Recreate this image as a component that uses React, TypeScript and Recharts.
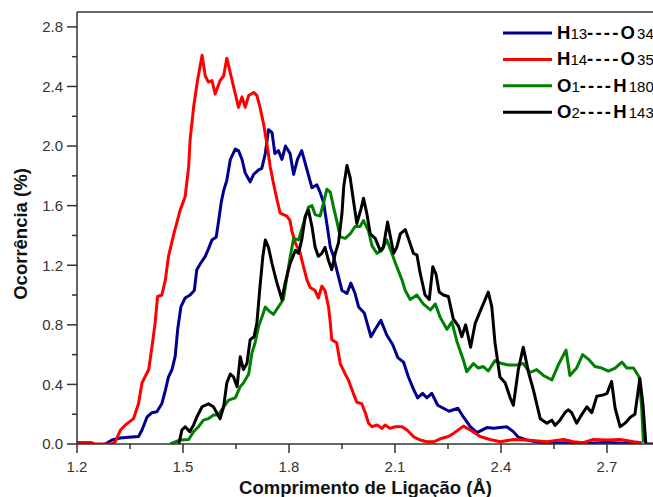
import React from "react";
import { LineChart, Line, XAxis, YAxis, Label, Legend, ReferenceLine } from "recharts";

// bond length (Å) vs occurrence (%) for each hydrogen bond
const h13o34: [number, number][] = [
  [1.28, 0.0], [1.299, 0.027], [1.322, 0.04], [1.346, 0.045], [1.374, 0.05], [1.384, 0.094], [1.398, 0.18],
  [1.412, 0.21], [1.426, 0.217], [1.44, 0.27], [1.45, 0.36], [1.459, 0.45], [1.469, 0.5], [1.478, 0.59],
  [1.485, 0.77], [1.494, 0.92], [1.506, 0.98], [1.52, 1.0], [1.532, 1.03], [1.539, 1.17], [1.549, 1.21],
  [1.563, 1.26], [1.572, 1.31], [1.582, 1.37], [1.594, 1.39], [1.601, 1.5], [1.608, 1.62], [1.615, 1.7],
  [1.624, 1.77], [1.634, 1.91], [1.648, 1.98], [1.657, 1.97], [1.667, 1.91], [1.676, 1.82], [1.69, 1.76],
  [1.7, 1.81], [1.714, 1.84], [1.723, 1.85], [1.733, 1.95], [1.742, 2.11], [1.752, 2.09], [1.76, 1.95],
  [1.77, 1.97], [1.78, 1.91], [1.79, 2.0], [1.803, 1.95], [1.813, 1.81], [1.824, 1.91], [1.836, 1.97],
  [1.851, 1.84], [1.865, 1.72], [1.879, 1.74], [1.888, 1.69], [1.898, 1.62], [1.907, 1.48], [1.917, 1.32],
  [1.926, 1.26], [1.935, 1.17], [1.95, 1.03], [1.964, 1.01], [1.975, 1.08], [1.987, 1.01], [1.997, 0.92],
  [2.013, 0.88], [2.032, 0.72], [2.044, 0.77], [2.06, 0.83], [2.077, 0.73], [2.093, 0.67], [2.108, 0.58],
  [2.124, 0.55], [2.138, 0.45], [2.152, 0.37], [2.164, 0.31], [2.178, 0.34], [2.19, 0.31], [2.204, 0.34],
  [2.221, 0.26], [2.237, 0.24], [2.253, 0.22], [2.278, 0.24], [2.294, 0.18], [2.313, 0.116], [2.332, 0.076],
  [2.36, 0.11], [2.379, 0.105], [2.416, 0.116], [2.435, 0.083], [2.449, 0.045], [2.473, 0.027], [2.51, 0.01],
  [2.55, 0.005], [2.6, 0.01], [2.65, 0.005], [2.7, 0.01], [2.75, 0.005], [2.798, 0.005],
];

const h14o35: [number, number][] = [
  [1.2, 0.01], [1.24, 0.01], [1.25, 0.0], [1.3, 0.0], [1.308, 0.015], [1.323, 0.094], [1.337, 0.128],
  [1.36, 0.17], [1.374, 0.27], [1.384, 0.41], [1.403, 0.5], [1.412, 0.65], [1.421, 0.81], [1.428, 0.99],
  [1.44, 1.0], [1.45, 1.1], [1.459, 1.26], [1.473, 1.4], [1.492, 1.57], [1.506, 1.66], [1.516, 1.86],
  [1.52, 2.04], [1.53, 2.26], [1.541, 2.44], [1.554, 2.61], [1.563, 2.47], [1.572, 2.43], [1.582, 2.44],
  [1.591, 2.35], [1.605, 2.44], [1.615, 2.47], [1.624, 2.59], [1.634, 2.49], [1.648, 2.35], [1.657, 2.26],
  [1.667, 2.33], [1.676, 2.26], [1.686, 2.34], [1.7, 2.36], [1.709, 2.34], [1.718, 2.26], [1.728, 2.15],
  [1.737, 2.02], [1.747, 1.86], [1.756, 1.75], [1.766, 1.64], [1.775, 1.55], [1.794, 1.53], [1.803, 1.5],
  [1.808, 1.43], [1.818, 1.35], [1.832, 1.28], [1.841, 1.19], [1.851, 1.1], [1.86, 1.05], [1.874, 1.03],
  [1.883, 0.98], [1.893, 1.06], [1.902, 1.03], [1.912, 0.92], [1.917, 0.81], [1.921, 0.7], [1.935, 0.68],
  [1.945, 0.54], [1.959, 0.47], [1.968, 0.43], [1.982, 0.34], [1.992, 0.28], [2.006, 0.27], [2.016, 0.21],
  [2.025, 0.14], [2.035, 0.116], [2.049, 0.128], [2.063, 0.105], [2.072, 0.128], [2.086, 0.105], [2.1, 0.116],
  [2.12, 0.116], [2.134, 0.094], [2.152, 0.05], [2.171, 0.027], [2.19, 0.015], [2.209, 0.015], [2.228, 0.035],
  [2.251, 0.05], [2.265, 0.07], [2.294, 0.12], [2.313, 0.094], [2.341, 0.05], [2.369, 0.03], [2.398, 0.015],
  [2.435, 0.03], [2.473, 0.027], [2.53, 0.015], [2.577, 0.03], [2.605, 0.015], [2.633, 0.009], [2.661, 0.03],
  [2.7, 0.027], [2.737, 0.03], [2.775, 0.015], [2.798, 0.009],
];

const o1h180: [number, number][] = [
  [1.464, 0.0], [1.492, 0.027], [1.516, 0.03], [1.53, 0.083], [1.544, 0.116], [1.558, 0.16], [1.572, 0.17],
  [1.586, 0.195], [1.6, 0.195], [1.615, 0.25], [1.629, 0.295], [1.648, 0.31], [1.662, 0.385], [1.671, 0.41],
  [1.686, 0.47], [1.695, 0.61], [1.704, 0.68], [1.714, 0.79], [1.723, 0.85], [1.733, 0.92], [1.745, 0.89],
  [1.756, 0.87], [1.77, 0.92], [1.784, 0.97], [1.794, 1.12], [1.803, 1.25], [1.813, 1.38], [1.827, 1.37],
  [1.841, 1.48], [1.855, 1.59], [1.865, 1.6], [1.874, 1.54], [1.888, 1.53], [1.898, 1.62], [1.907, 1.71],
  [1.917, 1.69], [1.926, 1.59], [1.935, 1.5], [1.945, 1.39], [1.959, 1.38], [1.973, 1.41], [1.987, 1.46],
  [2.001, 1.46], [2.011, 1.5], [2.025, 1.43], [2.035, 1.33], [2.049, 1.28], [2.063, 1.3], [2.077, 1.37],
  [2.091, 1.28], [2.105, 1.19], [2.12, 1.1], [2.129, 1.03], [2.143, 0.97], [2.162, 1.0], [2.18, 0.94],
  [2.2, 0.9], [2.214, 0.94], [2.228, 0.85], [2.247, 0.77], [2.261, 0.82], [2.275, 0.69], [2.294, 0.56],
  [2.303, 0.485], [2.322, 0.54], [2.336, 0.51], [2.35, 0.52], [2.364, 0.49], [2.383, 0.56], [2.402, 0.54],
  [2.421, 0.53], [2.445, 0.53], [2.463, 0.54], [2.482, 0.48], [2.501, 0.5], [2.52, 0.46], [2.544, 0.43],
  [2.562, 0.53], [2.584, 0.63], [2.595, 0.46], [2.614, 0.51], [2.631, 0.6], [2.647, 0.57], [2.666, 0.52],
  [2.685, 0.51], [2.704, 0.49], [2.723, 0.51], [2.742, 0.55], [2.756, 0.51], [2.775, 0.51], [2.791, 0.45],
  [2.798, 0.25], [2.803, 0.01],
];

const o2h143: [number, number][] = [
  [1.488, 0.0], [1.497, 0.094], [1.506, 0.116], [1.519, 0.083], [1.53, 0.128], [1.539, 0.18], [1.554, 0.25],
  [1.572, 0.27], [1.586, 0.25], [1.605, 0.17], [1.615, 0.25], [1.624, 0.41], [1.634, 0.47], [1.643, 0.45],
  [1.653, 0.385], [1.662, 0.585], [1.671, 0.5], [1.681, 0.54], [1.69, 0.7], [1.701, 0.72], [1.709, 0.81],
  [1.718, 1.06], [1.726, 1.26], [1.733, 1.37], [1.742, 1.32], [1.752, 1.21], [1.766, 1.08], [1.78, 0.97],
  [1.789, 1.08], [1.803, 1.21], [1.818, 1.3], [1.827, 1.28], [1.836, 1.37], [1.846, 1.53], [1.855, 1.57],
  [1.865, 1.46], [1.874, 1.32], [1.883, 1.26], [1.893, 1.28], [1.902, 1.32], [1.912, 1.23], [1.921, 1.17],
  [1.931, 1.28], [1.94, 1.35], [1.95, 1.55], [1.955, 1.73], [1.964, 1.87], [1.973, 1.79], [1.982, 1.64],
  [1.992, 1.48], [2.004, 1.58], [2.011, 1.65], [2.02, 1.55], [2.03, 1.41], [2.044, 1.38], [2.058, 1.3],
  [2.067, 1.32], [2.079, 1.49], [2.088, 1.38], [2.096, 1.28], [2.105, 1.32], [2.115, 1.41], [2.129, 1.44],
  [2.138, 1.38], [2.152, 1.28], [2.162, 1.27], [2.171, 1.15], [2.185, 1.0], [2.197, 0.97], [2.207, 1.19],
  [2.216, 1.14], [2.225, 1.02], [2.237, 1.0], [2.251, 0.99], [2.265, 0.84], [2.28, 0.79], [2.289, 0.72],
  [2.3, 0.8], [2.314, 0.65], [2.327, 0.81], [2.341, 0.89], [2.364, 1.02], [2.374, 0.92], [2.383, 0.68],
  [2.397, 0.45], [2.412, 0.41], [2.426, 0.31], [2.435, 0.26], [2.449, 0.5], [2.463, 0.65], [2.478, 0.48],
  [2.492, 0.36], [2.511, 0.17], [2.53, 0.14], [2.544, 0.16], [2.553, 0.125], [2.567, 0.16], [2.581, 0.21],
  [2.59, 0.23], [2.6, 0.21], [2.614, 0.14], [2.624, 0.18], [2.643, 0.25], [2.657, 0.21], [2.671, 0.32],
  [2.69, 0.33], [2.7, 0.34], [2.713, 0.42], [2.723, 0.24], [2.737, 0.116], [2.751, 0.14], [2.766, 0.18],
  [2.779, 0.2], [2.793, 0.44], [2.802, 0.26], [2.81, 0.0], [2.85, 0.0],
];

const xMajorTicks = [1.2, 1.5, 1.8, 2.1, 2.4, 2.7];
const xMinorTicks = [1.35, 1.65, 1.95, 2.25, 2.55];
const yMajorTicks = [0, 0.4, 0.8, 1.2, 1.6, 2.0, 2.4, 2.8];
const yMinorTicks = [0.2, 0.6, 1.0, 1.4, 1.8, 2.2, 2.6];

const FONT = "Arial, 'Liberation Sans', sans-serif";
const AXIS = "#333";

const toPoints = (pairs: [number, number][]) => pairs.map(([x, y]) => ({ x, y }));

const XTick = (props: any) => {
  const { x, y, payload } = props;
  const major = xMajorTicks.includes(payload.value);
  return (
    <g>
      <line x1={x} x2={x} y1={y} y2={y + (major ? 9 : 5)} stroke={AXIS} strokeWidth={1.5} />
      {major && (
        <text x={x} y={y + 28} textAnchor="middle" fontSize={15} fontFamily={FONT} fill="#333">
          {payload.value.toFixed(1)}
        </text>
      )}
    </g>
  );
};

const YTick = (props: any) => {
  const { x, y, payload } = props;
  const major = yMajorTicks.includes(payload.value);
  return (
    <g>
      <line x1={x} x2={x - (major ? 10 : 5)} y1={y} y2={y} stroke={AXIS} strokeWidth={1.5} />
      {major && (
        <text x={x - 14} y={y} dy="0.36em" textAnchor="end" fontSize={15} fontFamily={FONT} fill="#333">
          {payload.value.toFixed(1)}
        </text>
      )}
    </g>
  );
};

// atom labels: letters and dashes large bold, atom numbers smaller
const BondName = ({ name }: { name: string }) => (
  <>
    {name.split(/(\d+)/).filter(Boolean).map((part, i) =>
      /^\d+$/.test(part) ? (
        <tspan key={i} fontSize={15} fontWeight="normal">{part}</tspan>
      ) : (
        <tspan key={i} fontSize={18.5} fontWeight="bold" letterSpacing={part.startsWith("-") ? 2.2 : 0}>{part}</tspan>
      )
    )}
  </>
);

const LegendBox = (props: any) => {
  const items = props.payload || [];
  return (
    <svg width={160} height={110} style={{ overflow: "visible" }}>
      {items.map((entry: any, i: number) => {
        const cy = 15 + i * 26.4;
        return (
          <g key={entry.value}>
            <line x1={8} x2={57} y1={cy} y2={cy} stroke={entry.color} strokeWidth={3} />
            <text x={62} y={cy + 6} fontFamily={FONT} fill="#000">
              <BondName name={entry.value} />
            </text>
          </g>
        );
      })}
    </svg>
  );
};

const series = [
  { name: "H13----O34", color: "#00008f", data: h13o34 },
  { name: "H14----O35", color: "#ff0000", data: h14o35 },
  { name: "O1----H180", color: "#008000", data: o1h180 },
  { name: "O2----H143", color: "#000000", data: o2h143 },
];

export default function App() {
  return (
    <div style={{ position: "absolute", left: 0, top: 0, width: 653, height: 497, overflow: "hidden", background: "#fff" }}>
      <LineChart width={665} height={497} margin={{ top: 12, right: 5, bottom: 0, left: 0 }}>
        {series.map((s) => (
          <Line
            key={s.name}
            name={s.name}
            data={toPoints(s.data)}
            dataKey="y"
            type="linear"
            stroke={s.color}
            strokeWidth={3}
            strokeLinejoin="round"
            dot={false}
            activeDot={false}
            isAnimationActive={false}
          />
        ))}
        <ReferenceLine y={2.9} stroke={AXIS} strokeWidth={1.5} />
        <XAxis
          dataKey="x"
          type="number"
          domain={[1.2, 2.85]}
          allowDataOverflow
          ticks={[...xMajorTicks, ...xMinorTicks].sort((a, b) => a - b)}
          interval={0}
          tick={<XTick />}
          tickLine={false}
          tickSize={0}
          tickMargin={0}
          height={53}
          axisLine={{ stroke: AXIS, strokeWidth: 1.5 }}
        >
          <Label
            value="Comprimento de Ligação (Å)"
            position="insideBottom"
            offset={3.5}
            dx={-3}
            style={{ fontFamily: FONT, fontSize: 18.5, fontWeight: "bold", fill: "#111" }}
          />
        </XAxis>
        <YAxis
          type="number"
          domain={[0, 2.9]}
          allowDataOverflow
          ticks={[...yMajorTicks, ...yMinorTicks].sort((a, b) => a - b)}
          interval={0}
          tick={<YTick />}
          tickLine={false}
          tickSize={0}
          tickMargin={0}
          width={77}
          axisLine={{ stroke: AXIS, strokeWidth: 1.5 }}
        >
          <Label
            value="Ocorrência (%)"
            angle={-90}
            position="center"
            dx={-18}
            dy={6}
            style={{ fontFamily: FONT, fontSize: 18.5, fontWeight: "bold", fill: "#111" }}
          />
        </YAxis>
        <Legend
          layout="vertical"
          align="center"
          verticalAlign="middle"
          content={<LegendBox />}
          wrapperStyle={{ top: 18, left: 495, width: 160, height: 110 }}
        />
      </LineChart>
    </div>
  );
}
